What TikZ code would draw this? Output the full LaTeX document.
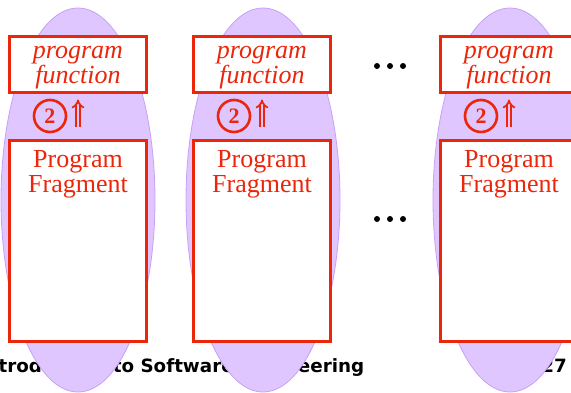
\documentclass[tikz,border=0pt]{standalone}
\usepackage{fontspec}
\setmainfont{Liberation Serif}
\newfontfamily\footfont{DejaVu Sans}
\usetikzlibrary{shapes.geometric,arrows.meta}
\definecolor{pred}{RGB}{236,38,10}
\definecolor{lav}{RGB}{223,198,255}
\definecolor{lavedge}{RGB}{200,160,245}
\begin{document}
\begin{tikzpicture}[x=1pt,y=-1pt,
 blob/.style={ellipse, fill=lav, draw=lavedge, line width=0.8pt, minimum width=154, minimum height=384, inner sep=0},
 box/.style={rectangle, draw=pred, fill=white, line width=3pt, inner sep=0},
 pfbox/.style={box, minimum width=137, minimum height=56},
 fragbox/.style={box, minimum width=137, minimum height=201},
 itxt/.style={text=pred, font=\fontsize{26}{26}\selectfont\itshape, anchor=base, inner sep=0},
 rtxt/.style={text=pred, font=\fontsize{26}{26}\selectfont, anchor=base, inner sep=0},
 num/.style={circle, draw=pred, line width=2.6pt, text=pred, font=\fontsize{22}{22}\selectfont\bfseries, minimum size=32, inner sep=0},
 upar/.style={draw=pred, line width=1.8pt, double=lav, double distance=2.3pt, -{Implies}, shorten <=12pt, shorten >=6pt},
 dotn/.style={circle, fill=black, minimum size=6, inner sep=0},
 foot/.style={font=\footfont\bfseries\fontsize{18.3}{18.3}\selectfont, inner sep=0, text=black}
]
\useasboundingbox (0,0) rectangle (571,392);
\clip (0,0) rectangle (571,392);
\node[foot, anchor=base west] (title) at (-21.5,372) {Introduction to Software Engineering};
\node[foot, anchor=base east] (pg) at (567,372) {27};
\foreach \i/\cx/\ex in {1/78/78,2/262/263,3/509/510}{
  \node[blob] (e\i) at (\ex,200) {};
  \node[pfbox] (pf\i) at (\cx,64) {};
  \node[fragbox] (frag\i) at (\cx,240.5) {};
  \node[itxt] (pfa\i) at (\cx,58) {program};
  \node[itxt] (pfb\i) at (\cx,83) {function};
  \node[rtxt] (fra\i) at (\cx,167) {Program};
  \node[rtxt] (frb\i) at (\cx,192) {Fragment};
  \node[num] (c\i) at (\cx-28,116) {2};
  \coordinate (a\i) at (\cx,0);
  \draw[upar] (a\i |- frag\i.north) -- (a\i |- pf\i.south);
}
\node[dotn] (d1) at (377,66) {};
\node[dotn] (d2) at (390,66) {};
\node[dotn] (d3) at (403,66) {};
\node[dotn] (d4) at (377,219) {};
\node[dotn] (d5) at (390,219) {};
\node[dotn] (d6) at (403,219) {};
\end{tikzpicture}
\end{document}
